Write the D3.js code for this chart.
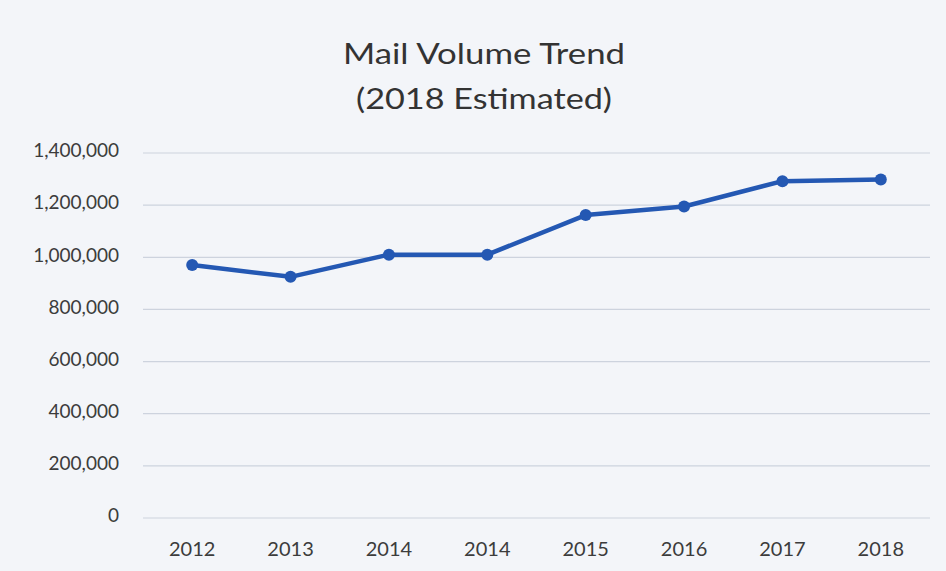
<!DOCTYPE html>
<html><head><meta charset="utf-8">
<script src="https://cdn.jsdelivr.net/npm/d3@7"></script>
<style>
html,body{margin:0;padding:0;background:#f3f5f9;}
svg{display:block;}
</style></head>
<body>
<svg id="chart" width="946" height="571"></svg>
<script>
const categories = ["2012","2013","2014","2014","2015","2016","2017","2018"];
const mailVolume = [970000, 925000, 1010000, 1010000, 1162000, 1195000, 1292000, 1298000];
const yTicks = [0,200000,400000,600000,800000,1000000,1200000,1400000];
const titleLines = ["Mail Volume Trend","(2018 Estimated)"];

const svg = d3.select("#chart");
const W = 946, H = 571;
const margin = {left:143, right:16, top:153, bottom:53};
const font = "Lato, 'Open Sans', sans-serif";

svg.append("rect").attr("width",W).attr("height",H).attr("fill","#f3f5f9");

const idx = categories.map((d,i)=>i);
const x = d3.scaleBand().domain(idx).range([margin.left, W - margin.right]);
const y = d3.scaleLinear().domain([0,1400000]).range([H - margin.bottom, margin.top]);

// gridlines
svg.append("g").selectAll("line").data(yTicks).join("line")
  .attr("x1", margin.left).attr("x2", W - margin.right)
  .attr("y1", d=>y(d)).attr("y2", d=>y(d))
  .attr("stroke","#cdd3de").attr("stroke-width",1.2);

// y axis
const yAxis = d3.axisLeft(y).tickValues(yTicks).tickSize(0).tickPadding(24)
  .tickFormat(d3.format(","));
const gy = svg.append("g").attr("transform",`translate(${margin.left},0)`).call(yAxis);
gy.select(".domain").remove();
gy.selectAll("text").attr("font-family",font).attr("font-size",19)
  .attr("dy","0.2em").attr("fill","#3c3c3c");

// x axis
const xAxis = d3.axisBottom(x).tickSize(0).tickPadding(24).tickFormat(i=>categories[i]);
const gx = svg.append("g").attr("transform",`translate(0,${H - margin.bottom})`).call(xAxis);
gx.select(".domain").remove();
gx.selectAll("text").attr("font-family",font).attr("font-size",20).attr("fill","#3c3c3c");

// line
const cx = i => x(i) + x.bandwidth()/2;
const line = d3.line().x((d,i)=>cx(i)).y(d=>y(d));
svg.append("path").datum(mailVolume).attr("d",line)
  .attr("fill","none").attr("stroke","#2458b3").attr("stroke-width",4.5)
  .attr("stroke-linejoin","round");
svg.append("g").selectAll("circle").data(mailVolume).join("circle")
  .attr("cx",(d,i)=>cx(i)).attr("cy",d=>y(d)).attr("r",6)
  .attr("fill","#2458b3");

// title
const titleWidths = [282, 256];
svg.append("g").selectAll("text").data(titleLines).join("text")
  .attr("x",484).attr("y",(d,i)=>64 + i*45)
  .attr("text-anchor","middle").attr("font-family",font)
  .attr("font-size",28).attr("fill","#333")
  .attr("textLength",(d,i)=>titleWidths[i]).attr("lengthAdjust","spacingAndGlyphs")
  .text(d=>d);
</script>
</body></html>
